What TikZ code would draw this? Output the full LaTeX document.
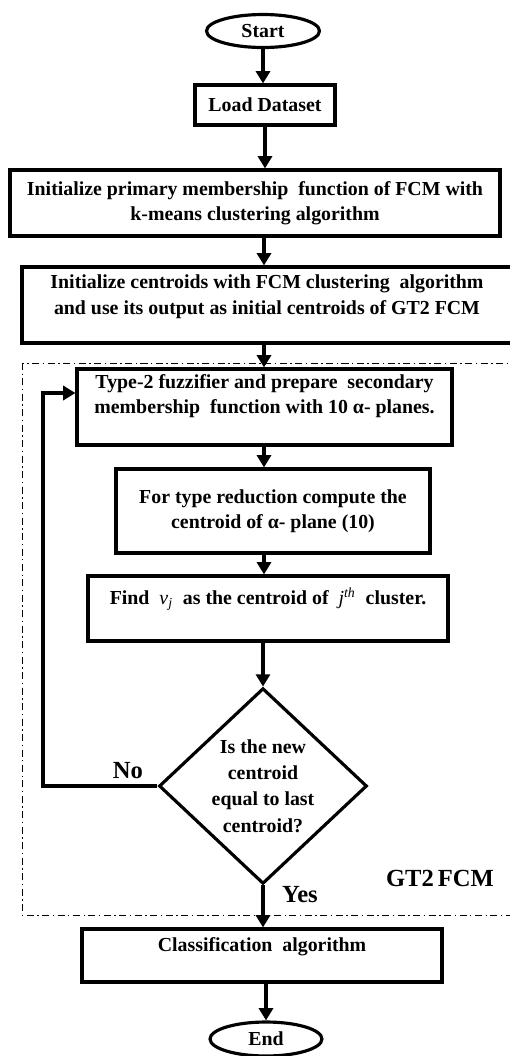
\documentclass[tikz,border=0pt]{standalone}
\usepackage{fontspec}
\setmainfont{Liberation Serif}
\usepackage{tikz}
\usetikzlibrary{arrows.meta,shapes.geometric}
\newcommand{\itpart}[1]{{\mdseries\itshape #1}}
\tikzset{
  blk/.style={draw,line width=1.8pt,rectangle,inner sep=0pt,align=center,font=\fontsize{11.3}{14.5}\selectfont\bfseries},
  term/.style={draw,line width=1.8pt,ellipse,inner sep=0pt,font=\fontsize{11.3}{14.5}\selectfont\bfseries},
  decide/.style={draw,line width=1.8pt,diamond,inner sep=0pt,align=center,font=\fontsize{11.3}{15}\selectfont\bfseries},
  flow/.style={line width=1.8pt,-{Triangle[length=7pt,width=8pt]}},
  frame/.style={line width=0.5pt,dash pattern=on 4pt off 2pt on 0.8pt off 2pt},
  lbl/.style={font=\fontsize{14}{16}\selectfont\bfseries},
}
\begin{document}
\begin{tikzpicture}[x=0.02cm,y=-0.02cm]
\useasboundingbox (0,0) rectangle (510,1056);
\coordinate (axis) at (264,0);
\node[term,minimum width=2.26cm,minimum height=0.66cm] (start) at (263,31) {Start};
\node[blk,minimum width=2.8cm,minimum height=0.8cm] (load) at (265,105) {Load Dataset};
\node[blk,minimum width=9.8cm,minimum height=1.32cm] (kmeans) at (255,203)
  {Initialize primary membership\ \ function of FCM with\\ k-means clustering algorithm};
\node[blk,minimum width=9.8cm,minimum height=1.52cm,text depth=12pt] (fcm) at (267,305)
  {Initialize centroids with FCM clustering\ \ algorithm\\ and use its output as initial centroids of GT2 FCM};
% GT2 FCM loop
\draw[frame] (22,363) rectangle (530,915);
\node[blk,minimum width=7.5cm,minimum height=1.52cm,text depth=15pt] (fuzz) at (264.5,407)
  {Type-2 fuzzifier and prepare\ \ secondary\\ membership\ \ function with 10 α- planes.};
\node[blk,minimum width=6.28cm,minimum height=1.68cm] (reduce) at (273,511)
  {For type reduction compute the\\ centroid of α- plane (10)};
\node[blk,minimum width=7.2cm,minimum height=1.3cm,text depth=14pt] (find) at (268,608.5)
  {Find\ \ \itpart{v}\textsubscript{\itpart{j}}\ \ as the centroid of\ \ \itpart{j}\textsuperscript{\itpart{th}}\ \ cluster.};
\node[decide,minimum width=4.16cm,minimum height=3.58cm] (check) at (263,786)
  {Is the new\\ centroid\\ equal to last\\ centroid?};
\node[lbl] (no) at (128,771) {No};
\node[lbl] (yes) at (300,895) {Yes};
\node[lbl] (gt) at (440,878) {GT2\,FCM};
\node[blk,minimum width=7.2cm,minimum height=1.06cm,text depth=12pt] (classify) at (262,955.5)
  {Classification\ \ algorithm};
\node[term,minimum width=2.24cm,minimum height=0.68cm] (end) at (266,1039) {End};
\coordinate (back) at (43,393);
\draw[flow] (start) -- (start |- load.north);
\draw[flow] (load.south) -- (load.south |- kmeans.north);
\draw[flow] (kmeans.south -| axis) -- (fcm.north -| axis);
\draw[flow] (fcm.south -| axis) -- (fuzz.north -| axis);
\draw[flow] (fuzz.south -| axis) -- (reduce.north -| axis);
\draw[flow] (reduce.south -| axis) -- (find.north -| axis);
\draw[flow] (find.south -| check.north) -- (check.north);
\draw[flow] (check.south) -- (check.south |- classify.north);
\draw[flow] (classify.south -| end.north) -- (end.north);
\draw[flow] (check.west) -| (back) -- (back -| fuzz.west);
\end{tikzpicture}
\end{document}
